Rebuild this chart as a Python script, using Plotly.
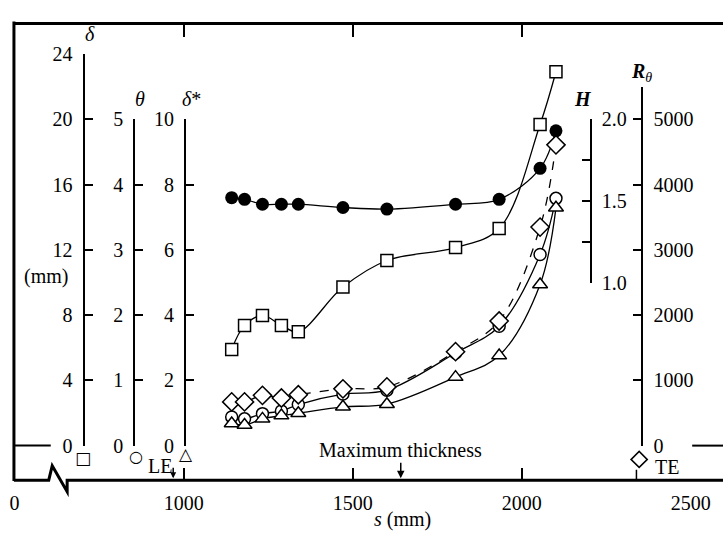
import plotly.graph_objects as go

W, H = 723, 542

# ---------------- data ----------------
s_mm = [1142, 1180, 1233, 1289, 1339, 1471, 1601, 1804, 1933, 2054, 2101]
delta_mm = [5.90, 7.37, 7.98, 7.37, 6.98, 9.72, 11.35, 12.14, 13.31, 19.69, 22.92]
theta_mm = [0.44, 0.41, 0.49, 0.53, 0.63, 0.79, 0.85, 1.42, 1.83, 2.93, 3.79]
dstar_mm = [0.68, 0.63, 0.82, 0.92, 0.99, 1.19, 1.27, 2.10, 2.76, 4.94, 7.29]
shape_factor = [1.52, 1.51, 1.48, 1.48, 1.48, 1.46, 1.45, 1.48, 1.51, 1.70, 1.93]
re_theta = [670, 670, 770, 730, 780, 870, 900, 1440, 1910, 3350, 4610]
h_extra_s = [2189]
h_extra = [0.91]

le_s = 969
te_s = 2339
max_thick_s = 1642

x_tickvals = [500, 1000, 1500, 2000, 2500]
x_ticktext = ["0", "1000", "1500", "2000", "2500"]
x_tickmarks = [1000, 1500, 2000]

delta_ticks = [0, 4, 8, 12, 16, 20, 24]
theta_ticks = [0, 1, 2, 3, 4, 5]
dstar_ticks = [0, 2, 4, 6, 8, 10]
h_ticks = [1.0, 1.25, 1.5, 1.75, 2.0]
h_ticktext = ["1.0", "", "1.5", "", "2.0"]
re_ticks = [0, 1000, 2000, 3000, 4000, 5000]


def fx(p):
    return p / W


def fy(p):
    return 1 - p / H


FONT = "Liberation Serif"
X_RANGE = [498.0, 2595.0]

fig = go.Figure()

open_line = dict(color="black", width=1.5)
lw = 1.3

# R_theta (diamonds, dashed)
fig.add_trace(go.Scatter(x=s_mm, y=re_theta, xaxis="x", yaxis="y5", mode="lines+markers",
                         line=dict(color="black", width=lw, dash="dash", shape="spline"),
                         marker=dict(symbol="diamond", size=14, color="white", line=open_line)))
# theta (open circles)
fig.add_trace(go.Scatter(x=s_mm, y=theta_mm, xaxis="x", yaxis="y2", mode="lines+markers",
                         line=dict(color="black", width=lw, shape="spline"),
                         marker=dict(symbol="circle", size=12, color="white", line=open_line)))
# delta* (triangles)
fig.add_trace(go.Scatter(x=s_mm, y=dstar_mm, xaxis="x", yaxis="y3", mode="lines+markers",
                         line=dict(color="black", width=lw, shape="spline"),
                         marker=dict(symbol="triangle-up", size=13, color="white", line=open_line)))
# delta (squares)
fig.add_trace(go.Scatter(x=s_mm, y=delta_mm, xaxis="x", yaxis="y", mode="lines+markers",
                         line=dict(color="black", width=lw, shape="spline"),
                         marker=dict(symbol="square", size=12, color="white", line=open_line)))
# H (filled circles)
fig.add_trace(go.Scatter(x=s_mm, y=shape_factor, xaxis="x", yaxis="y4", mode="lines+markers",
                         line=dict(color="black", width=lw, shape="spline"),
                         marker=dict(symbol="circle", size=13, color="black")))
fig.add_trace(go.Scatter(x=h_extra_s, y=h_extra, xaxis="x", yaxis="y4", mode="markers",
                         cliponaxis=False, marker=dict(symbol="circle", size=13, color="black")))
# dummies so that the auxiliary x axes are drawn
fig.add_trace(go.Scatter(x=[None], y=[None], xaxis="x2", yaxis="y", showlegend=False))
fig.add_trace(go.Scatter(x=[None], y=[None], xaxis="x3", yaxis="y", showlegend=False))

tickfont = dict(family=FONT, size=20, color="black")

def yax(domain_px, rng, pos_px, tickvals, side="left", ticktext=None):
    d = dict(domain=[fy(domain_px[0]), fy(domain_px[1])], range=rng, anchor="free",
             position=fx(pos_px), side=side, showline=True, linecolor="black", linewidth=2,
             ticks="inside", ticklen=8, tickwidth=2, tickcolor="black", tickvals=tickvals,
             showgrid=False, zeroline=False, tickfont=tickfont, ticklabelstandoff=6,
             fixedrange=True)
    if ticktext is not None:
        d["ticktext"] = ticktext
    return d

fig.update_layout(
    width=W, height=H, margin=dict(l=0, r=0, t=0, b=0),
    paper_bgcolor="white", plot_bgcolor="rgba(0,0,0,0)", showlegend=False,
    font=dict(family=FONT, size=20, color="black"),
    xaxis=dict(domain=[fx(10), 1], range=X_RANGE, anchor="free", position=fy(489),
               showline=False, showgrid=False, zeroline=False, ticks="inside", ticklen=12,
               tickwidth=2, tickcolor="black", tickvals=x_tickmarks, showticklabels=False),
    xaxis2=dict(overlaying="x", range=X_RANGE, anchor="free", position=fy(489),
                showline=False, showgrid=False, zeroline=False, ticks="",
                tickvals=x_tickvals, ticktext=x_ticktext, tickfont=tickfont,
                ticklabelstandoff=9),
    xaxis3=dict(overlaying="x", range=X_RANGE, anchor="free", position=fy(12), side="top",
                showline=True, linecolor="black", linewidth=3, showgrid=False, zeroline=False,
                ticks="inside", ticklen=12, tickwidth=2, tickcolor="black",
                tickvals=x_tickmarks, showticklabels=False),
    yaxis=yax((453, 45), [0, 24], 80, delta_ticks),
    yaxis2=yax((453, 113), [0, 5], 131, theta_ticks),
    yaxis3=yax((453, 113), [0, 10], 182, dstar_ticks),
    yaxis4=yax((283, 113), [1.0, 2.0], 590, h_ticks, side="right", ticktext=h_ticktext),
    yaxis5=yax((453, 79), [0, 5500], 642, re_ticks, side="right"),
)

# frame and broken axis
def path(points):
    return "M " + " L ".join(f"{fx(a):.5f},{fy(b):.5f}" for a, b in points)

shapes = [
    dict(type="line", xref="paper", yref="paper", x0=fx(10), x1=fx(10), y0=fy(11), y1=fy(490),
         line=dict(color="black", width=3)),
    dict(type="path", xref="paper", yref="paper",
         path=path([(10, 489), (45, 489), (48.5, 474), (63.5, 501), (63.5, 489), (723, 489)]),
         line=dict(color="black", width=3)),
    dict(type="line", xref="paper", yref="paper", x0=fx(10), x1=fx(47), y0=fy(453), y1=fy(453),
         line=dict(color="black", width=2)),
    dict(type="line", xref="paper", yref="paper", x0=fx(692), x1=fx(723), y0=fy(453), y1=fy(453),
         line=dict(color="black", width=2)),
]
fig.update_layout(shapes=shapes)

def ann(text, xp, yp, size=20, family=FONT):
    return dict(text=text, x=fx(xp), y=fy(yp), xref="paper", yref="paper", showarrow=False,
                xanchor="center", yanchor="middle", font=dict(family=family, size=size, color="black"))

sym = "DejaVu Sans"
annotations = [
    ann("<i>δ</i>", 86, 24, 20),
    ann("<i>θ</i>", 137, 92, 20),
    ann("<i>δ</i>*", 189, 92, 20),
    ann("<b><i>H</i></b>", 582, 92, 20),
    ann("<b><i>R</i></b><sub><i>θ</i></sub>", 641, 64, 20),
    ann("(mm)", 42, 277, 20),
    ann("□", 79, 466, 17, sym),
    ann("○", 133, 464, 16, sym),
    ann("△", 183, 462, 17, sym),
    # open diamond key next to TE: a bordered box turned by 45 degrees
    dict(text=" ", x=fx(639), y=fy(467), xref="paper", yref="paper", showarrow=False,
         xanchor="center", yanchor="middle", width=10, height=10, borderpad=0,
         bordercolor="black", borderwidth=1.6, bgcolor="white", textangle=45,
         font=dict(size=4)),
    ann("LE", 157, 474, 20),
    ann("TE", 667, 475, 20),
    ann("<i>s</i> (mm)", 401, 530, 20),
    dict(text="Maximum thickness", x=max_thick_s, y=fy(487), xref="x", yref="paper",
         showarrow=True, ax=0, ay=-28, arrowhead=2, arrowsize=1, arrowwidth=1.5,
         arrowcolor="black", font=dict(family=FONT, size=20, color="black")),
    dict(text="", x=le_s, y=fy(487), xref="x", yref="paper", showarrow=True, ax=0, ay=-12,
         arrowhead=2, arrowsize=0.8, arrowwidth=1.5, arrowcolor="black"),
    dict(text="", x=te_s, y=fy(489), xref="x", yref="paper", showarrow=True, ax=0, ay=-12,
         arrowhead=0, arrowwidth=1.5, arrowcolor="black"),
]
fig.update_layout(annotations=annotations)

fig.write_html("out.html")
